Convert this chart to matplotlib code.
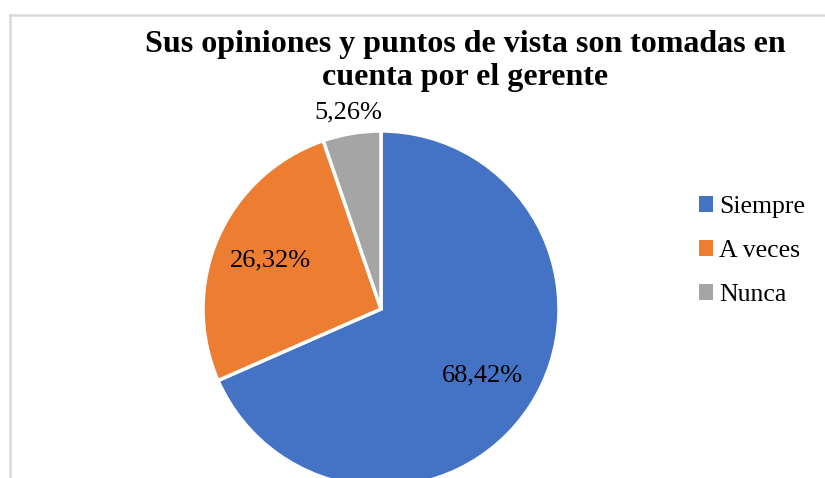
import numpy as np
import matplotlib.pyplot as plt
from matplotlib.patches import Patch
from matplotlib.lines import Line2D

labels = ['Siempre', 'A veces', 'Nunca']
values = [68.42, 26.32, 5.26]
colors = ['#4472c4', '#ed7d31', '#a5a5a5']
label_dist = [0.68, 0.68, 1.12]

plt.rcParams['font.family'] = ['Liberation Serif', 'DejaVu Serif']

fig = plt.figure(figsize=(8.25, 4.78), dpi=100)

# chart frame (left and top edges visible)
fig.add_artist(Line2D([10/825, 10/825], [0, 1 - 15/478], color='#d9d9d9', lw=1.8))
fig.add_artist(Line2D([10/825, 1], [1 - 15/478, 1 - 15/478], color='#d9d9d9', lw=1.8))

fig.text(465/825, 1 - 61/478, 'Sus opiniones y puntos de vista son tomadas en\ncuenta por el gerente',
         ha='center', va='center', fontsize=23, fontweight='bold', linespacing=1.15)

ax = fig.add_axes([203/825, (478 - 487)/478, 356/825, 356/478])
wedges, _ = ax.pie(values, colors=colors, startangle=90, counterclock=False,
                   wedgeprops=dict(edgecolor='white', linewidth=2.5))
for w, v, d in zip(wedges, values, label_dist):
    ang = np.deg2rad((w.theta1 + w.theta2) / 2)
    ax.text(d * np.cos(ang), d * np.sin(ang), f'{v:.2f}%'.replace('.', ','),
            ha='center', va='center', fontsize=19)
    w.set_clip_on(False)
ax.set_xlim(-1, 1)
ax.set_ylim(-1, 1)
ax.set_aspect('equal')

handles = [Patch(facecolor=c, edgecolor='none') for c in colors]
fig.legend(handles, labels, loc='center left', bbox_to_anchor=(699/825, 1 - 251/478),
           frameon=False, fontsize=18.5, handlelength=0.56, handleheight=0.56,
           handletextpad=0.22, labelspacing=0.85, borderpad=0, borderaxespad=0)

fig.savefig('out.png', dpi=100)
